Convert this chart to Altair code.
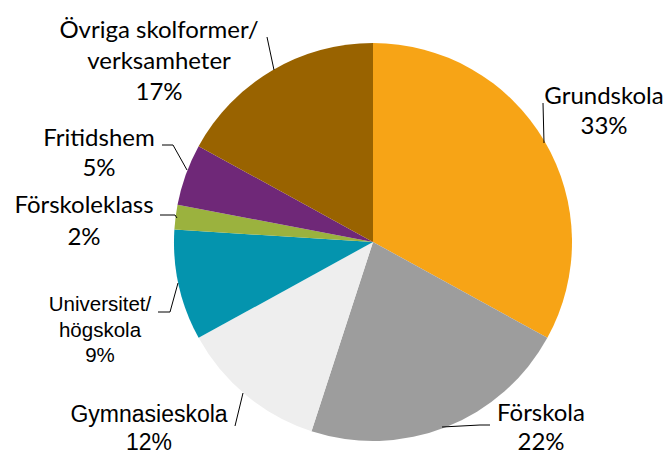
import altair as alt
import pandas as pd

# ---- data ----
categories = ["Grundskola", "Förskola", "Gymnasieskola", "Universitet/högskola",
              "Förskoleklass", "Fritidshem", "Övriga skolformer/verksamheter"]
values = [33, 22, 12, 9, 2, 5, 17]
label_lines = [["Grundskola"], ["Förskola"], ["Gymnasieskola"],
               ["Universitet/", "högskola"], ["Förskoleklass"], ["Fritidshem"],
               ["Övriga skolformer/", "verksamheter"]]
colors = ["#F7A416", "#9D9D9D", "#EEEEEE", "#0494AE", "#9BB23E", "#6F2878", "#996300"]

# ---- label layout (pixel offsets from pie centre) ----
label_x = [231, 168, -224, -273, -289, -274, -214]
label_y0 = [-145, 172, 173, 63, -36, -103, -211]
label_lh = [30, 29, 28, 25.5, 32, 30, 31]
label_font = ["Lato", "Lato", "Liberation Sans", "Liberation Sans", "Lato", "Lato", "Lato"]
label_size = [24, 24, 23, 20.5, 24, 24, 24]
leaders = [[(170, -139), (171, -99)],
           [(117, 183), (107, 183), (69, 185)],
           [(-138, 184), (-130, 151)],
           [(-215, 70), (-203, 70), (-195, 41)],
           [(-213, -27), (-198, -27), (-196, -24)],
           [(-211, -97), (-200, -97), (-186, -72)],
           [(-106, -205), (-99, -172)]]

W, H = 656, 449
CX, CY = 365, 234
R = 199

pie_df = pd.DataFrame({"category": categories, "value": values, "idx": range(len(values))})

rows = []
for i, (lines, v) in enumerate(zip(label_lines, values)):
    for j, t in enumerate(lines + [f"{v}%"]):
        rows.append({"t": t, "x": label_x[i], "y": label_y0[i] + j * label_lh[i],
                     "font": label_font[i], "fs": label_size[i]})
text_df = pd.DataFrame(rows)

lrows = []
for i, pts in enumerate(leaders):
    for k, (px, py) in enumerate(pts):
        lrows.append({"g": i, "k": k, "x": px, "y": py})
lead_df = pd.DataFrame(lrows)

xs = alt.Scale(domain=[-CX, W - CX], nice=False, zero=False)
ys = alt.Scale(domain=[-CY, H - CY], reverse=True, nice=False, zero=False)

pie = alt.Chart(pie_df).mark_arc(outerRadius=R).encode(
    theta=alt.Theta("value:Q", stack=True),
    color=alt.Color("category:N", scale=alt.Scale(domain=categories, range=colors), legend=None),
    order=alt.Order("idx:Q"),
    x=alt.value(CX),
    y=alt.value(CY),
)

lead = alt.Chart(lead_df).mark_line(color="#000000", strokeWidth=1).encode(
    x=alt.X("x:Q", scale=xs, axis=None),
    y=alt.Y("y:Q", scale=ys, axis=None),
    detail="g:N",
    order="k:Q",
)

def text_layer(font):
    return alt.Chart(text_df).transform_filter(
        alt.datum.font == font
    ).mark_text(font=font, align="center", baseline="middle", color="#000000").encode(
        x=alt.X("x:Q", scale=xs, axis=None),
        y=alt.Y("y:Q", scale=ys, axis=None),
        text="t:N",
        size=alt.Size("fs:Q", scale=None),
    )

chart = alt.layer(pie, lead, text_layer("Lato"), text_layer("Liberation Sans")).properties(
    width=W, height=H, padding=0, autosize="none", background="white"
).configure_view(stroke=None)

chart.save("out.html", embed_options={"renderer": "svg", "actions": False})
